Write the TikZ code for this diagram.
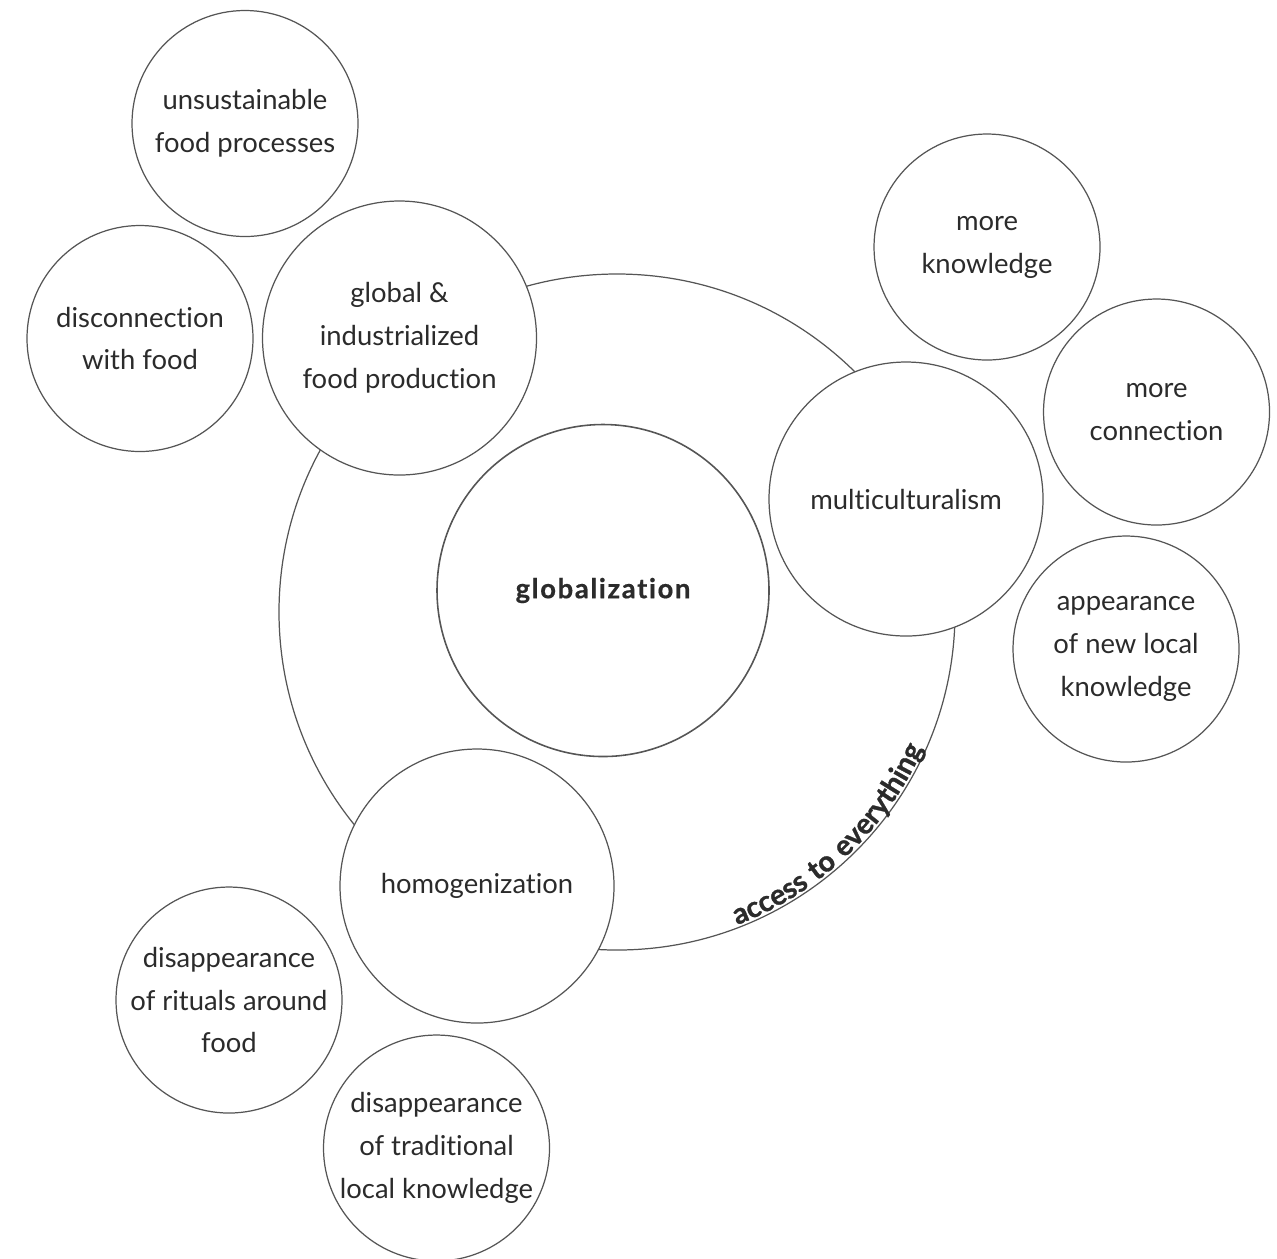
\documentclass[tikz,border=0pt]{standalone}
\usepackage{fontspec}
\setmainfont{Lato}[Ligatures=NoCommon]
\usetikzlibrary{decorations.text}

\definecolor{ink}{HTML}{2B2B2B}
\definecolor{rim}{HTML}{555555}
\newcommand\bubblefont{\fontsize{7.8}{12.2}\selectfont}
\newcommand\arcfont{\fontsize{8.2}{9}\selectfont\bfseries\addfontfeature{LetterSpace=6,FakeBold=1}\color{ink}}

\tikzset{
    bubble/.style={circle, draw=rim, line width=0.35pt, fill=white, inner sep=0pt,
        align=center, text=ink, font=\bubblefont},
    small/.style={bubble, minimum size=2.26cm},
    mid/.style={bubble, minimum size=2.74cm},
}

\begin{document}
\begin{tikzpicture}
    \useasboundingbox (0,0) rectangle (12.77,-12.58);

    % outer ring first, the bubbles cover it
    \node[circle, draw=rim, line width=0.35pt, minimum size=6.76cm, inner sep=0pt] (ring) at (6.17,-6.12) {};
    \path[decorate, decoration={text along path, text align=center, raise=0.8pt,
            text={|\arcfont|access to everything}}]
        ([shift={(-80:3.38)}]ring.center) arc[start angle=-80, end angle=-13, radius=3.38];

    \node[bubble, minimum size=3.32cm, line width=0.45pt,
        font=\bubblefont\bfseries\addfontfeature{LetterSpace=6,FakeBold=0.5}] (glob) at (6.03,-5.905) {globalization};

    \node[mid] (industr) at (3.995,-3.38) {global \&\\industrialized\\food production};
    \node[mid] (multi) at (9.06,-4.99) {multiculturalism};
    \node[mid] (homog) at (4.77,-8.86) {homogenization};

    \foreach \n/\x/\y/\t in {unsus/2.45/-1.235/{unsustainable\\food processes},
        discon/1.40/-3.385/{disconnection\\with food},
        knowl/9.87/-2.47/{more\\knowledge},
        conn/11.565/-4.12/{more\\connection},
        newloc/11.26/-6.49/{appearance\\of new local\\knowledge},
        rituals/2.29/-10.00/{disappearance\\of rituals around\\food},
        tradit/4.365/-11.48/{disappearance\\of traditional\\local knowledge}}
        {\node[small] (\n) at (\x,\y) {\t};}
\end{tikzpicture}
\end{document}
